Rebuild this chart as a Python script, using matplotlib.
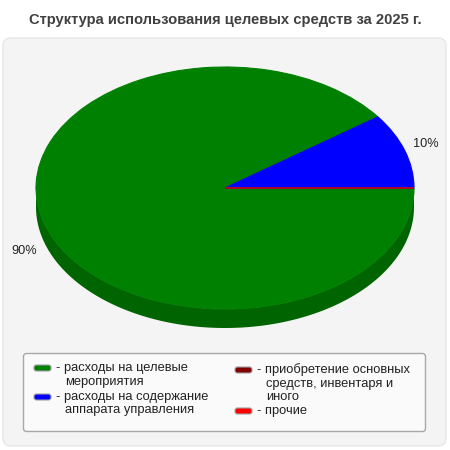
import matplotlib.pyplot as plt
import numpy as np
from matplotlib.patches import FancyBboxPatch

plt.rcParams['font.family'] = ['Liberation Sans', 'DejaVu Sans']

title = "Структура использования целевых средств за 2025 г."
categories = ["расходы на целевые\nмероприятия",
              "расходы на содержание\nаппарата управления",
              "приобретение основных\nсредств, инвентаря и\nиного",
              "прочие"]
values = [90, 10, 0, 0]
colors = ["#008000", "#0000ff", "#800000", "#ff0000"]
side_colors = ["#006400", "#0000c0", "#600000", "#c00000"]

W, H = 450, 450
# pie geometry in pixels
CX, CY, RX, RY, DEPTH = 225, 188, 189, 121, 19

fig = plt.figure(figsize=(W / 100, H / 100), dpi=100)
fig.patch.set_facecolor("white")

# background panel
bg = fig.add_axes([0, 0, 1, 1])
bg.set_xlim(0, W)
bg.set_ylim(H, 0)
bg.axis("off")
bg.add_patch(FancyBboxPatch((3, 38), 443, 408, boxstyle="round,pad=0,rounding_size=8",
                            fc="#f4f4f4", ec="#e6e6e6", lw=1))
bg.add_patch(FancyBboxPatch((23.5, 353.5), 402, 78, boxstyle="round,pad=0,rounding_size=3",
                            fc="#fafafa", ec="#a8a8a8", lw=1))
bg.text(W / 2, 20, title, ha="center", va="center", fontsize=10.6,
        fontweight="bold", color="#404040")

# pie axes: data -1..1 maps to ellipse
ax = fig.add_axes([0, 0, 1, 1])
ax.patch.set_alpha(0)
sx = RX / 1.0
sy = RY / 1.0
d = DEPTH / sy

total = sum(values)
# side (front half only)
ang = 0.0
for v, sc in zip(values, side_colors):
    a1 = ang - 360 * v / total
    lo, hi = a1 % 360, (a1 % 360) + 360 * v / total
    ang = a1
    if v == 0:
        continue
    for k in (0, 360):
        t0 = max(lo, 180 + k)
        t1 = min(hi, 360 + k)
        if t1 > t0:
            t = np.radians(np.linspace(t0, t1, 200))
            xs = np.concatenate([np.cos(t), np.cos(t[::-1])])
            ys = np.concatenate([np.sin(t), np.sin(t[::-1]) - d])
            ax.fill(xs, ys, color=sc, lw=0)

wedges, _ = ax.pie(values, colors=colors, startangle=0, counterclock=False,
                   wedgeprops=dict(lw=0.8), radius=1)
for w, c in zip(wedges, colors):
    w.set_edgecolor(c)

# percentage labels
ang = 0.0
for v in values:
    mid = ang - 180 * v / total
    ang -= 360 * v / total
    if v == 0:
        continue
    t = np.radians(mid)
    x = 1.117 * np.cos(t)
    y = 1.18 * np.sin(t)
    if y < 0:
        y -= d
    ax.text(x, y, "%d%%" % round(100 * v / total), ha="center", va="center",
            fontsize=9.2, color="#222222")

ax.set_aspect("auto")
ax.set_xlim(-CX / sx, (W - CX) / sx)
ax.set_ylim(-(H - CY) / sy, CY / sy)
ax.axis("off")

# legend
leg_pos = [(34, 368), (34, 397), (235, 370), (235, 411)]
for (lx, ly), lab, c in zip(leg_pos, categories, colors):
    bg.add_patch(FancyBboxPatch((lx, ly - 3), 17, 6, boxstyle="round,pad=0,rounding_size=2.5",
                                fc=c, ec="#a0a0a0", lw=0.8))
    lines = lab.split("\n")
    bg.text(lx + 22, ly, "- " + lines[0], ha="left", va="center", fontsize=9.3, color="#222222")
    for i, ln in enumerate(lines[1:]):
        bg.text(lx + 31, ly + 13.5 * (i + 1), ln, ha="left", va="center",
                fontsize=9.3, color="#222222")

fig.savefig("out.png", dpi=100)
